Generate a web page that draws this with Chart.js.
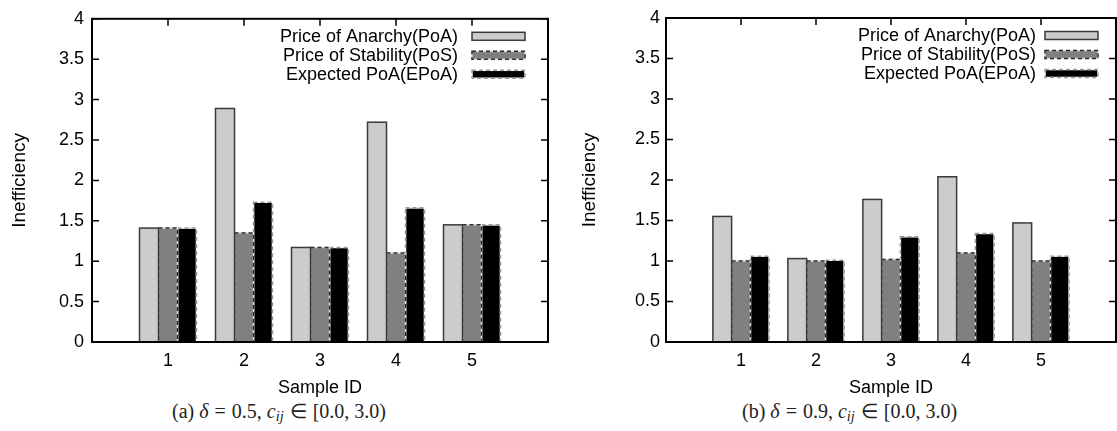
<!DOCTYPE html>
<html><head><meta charset="utf-8">
<script src="https://cdn.jsdelivr.net/npm/chart.js@4.4.0/dist/chart.umd.min.js"></script>
<style>
html,body{margin:0;padding:0;background:#fff;width:1117px;height:431px;overflow:hidden;}
canvas{position:absolute;top:0;}
#ca{left:0;}
#cb{left:570px;}
.cap{position:absolute;top:400px;font-family:"Liberation Serif","Times New Roman",serif;font-size:20px;color:#222;white-space:nowrap;line-height:22px;}
.cap i{font-style:italic;}
.cap .op{margin:0 6px;}
.cap sub{font-size:72%;vertical-align:-3px;line-height:0;}
</style></head><body>
<canvas id="ca" width="558" height="400"></canvas>
<canvas id="cb" width="547" height="400"></canvas>
<div class="cap" style="left:172px">(a) <i>δ</i><span class="op">=</span>0.5, <i>c<sub>ij</sub></i><span class="op">∈</span>[0.0, 3.0)</div>
<div class="cap" style="left:742px">(b) <i>δ</i><span class="op">=</span>0.9, <i>c<sub>ij</sub></i><span class="op">∈</span>[0.0, 3.0)</div>
<script>
// ---- data ----
const sampleIds = [1, 2, 3, 4, 5];
const xTickValues = [1, 2, 3, 4, 5];
const yTickValues = [0, 0.5, 1, 1.5, 2, 2.5, 3, 3.5, 4];
const seriesNames = ['Price of Anarchy(PoA)', 'Price of Stability(PoS)', 'Expected PoA(EPoA)'];
const poaA  = [1.41, 2.89, 1.17, 2.72, 1.45];
const posA  = [1.41, 1.35, 1.17, 1.10, 1.45];
const epoaA = [1.41, 1.73, 1.17, 1.66, 1.45];
const poaB  = [1.55, 1.03, 1.76, 2.04, 1.47];
const posB  = [1.00, 1.00, 1.02, 1.10, 1.00];
const epoaB = [1.06, 1.01, 1.30, 1.34, 1.06];
const yTitle = 'Inefficiency';
const xTitle = 'Sample ID';

// ---- styles ----
const FONT = '"Liberation Sans", Arial, Helvetica, sans-serif';
const barStyles = [
  {fill: '#cccccc', under: null, stroke: '#3a3a3a', dash: []},
  {fill: '#808080', under: '#dddddd', stroke: '#2a2a2a', dash: [4, 3]},
  {fill: '#000000', under: '#ffffff', stroke: '#9a9a9a', dash: [4, 3]}
];

function outlineRect(ctx, x, y, w, h, st) {
  ctx.save();
  ctx.lineWidth = 1.5;
  if (st.under) {
    ctx.setLineDash([]);
    ctx.strokeStyle = st.under;
    ctx.strokeRect(x, y, w, h);
  }
  ctx.setLineDash(st.dash);
  ctx.strokeStyle = st.stroke;
  ctx.strokeRect(x, y, w, h);
  ctx.restore();
}

const barOutline = {
  id: 'barOutline',
  afterDatasetDraw(chart, args) {
    const st = barStyles[args.index];
    const ctx = chart.ctx;
    args.meta.data.forEach(el => {
      const p = el.getProps(['x', 'y', 'base', 'width'], true);
      outlineRect(ctx, p.x - p.width / 2, p.y, p.width, p.base - p.y, st);
    });
  }
};

const innerTicks = {
  id: 'innerTicks',
  beforeDatasetsDraw(chart) {
    const {ctx, chartArea: a, scales} = chart;
    ctx.save();
    ctx.strokeStyle = '#000';
    ctx.lineWidth = 1.5;
    ctx.beginPath();
    yTickValues.forEach(v => {
      const py = scales.y.getPixelForValue(v);
      ctx.moveTo(a.left, py); ctx.lineTo(a.left + 7, py);
      ctx.moveTo(a.right, py); ctx.lineTo(a.right - 7, py);
    });
    xTickValues.forEach(v => {
      const px = scales.x.getPixelForValue(v);
      ctx.moveTo(px, a.top); ctx.lineTo(px, a.top + 7);
      ctx.moveTo(px, a.bottom); ctx.lineTo(px, a.bottom - 7);
    });
    ctx.stroke();
    ctx.restore();
  }
};

const frameAndLegend = {
  id: 'frameAndLegend',
  afterDraw(chart, args, opts) {
    const {ctx, chartArea: a} = chart;
    ctx.save();
    ctx.strokeStyle = '#000';
    ctx.lineWidth = 2;
    ctx.strokeRect(a.left, a.top, a.right - a.left, a.bottom - a.top);
    // legend
    ctx.font = '18px ' + FONT;
    ctx.fillStyle = '#000';
    ctx.textAlign = 'right';
    ctx.textBaseline = 'middle';
    chart.data.datasets.forEach((ds, i) => {
      const cy = a.top + 17.5 + i * 19;
      const bw = 53, bh = 8;
      const bx = a.right - opts.gap - bw;
      ctx.fillStyle = barStyles[i].fill;
      ctx.fillRect(bx, cy - bh / 2, bw, bh);
      outlineRect(ctx, bx, cy - bh / 2, bw, bh, barStyles[i]);
      ctx.fillStyle = '#000';
      ctx.fillText(ds.label, bx - opts.textGap, cy + 1);
    });
    ctx.restore();
  }
};

function makeChart(id, series, cfg) {
  const datasets = series.map((vals, i) => ({
    label: seriesNames[i],
    data: sampleIds.map((s, k) => ({x: s, y: vals[k]})),
    backgroundColor: barStyles[i].fill,
    borderWidth: 0,
    categoryPercentage: 0.75,
    barPercentage: 1.0
  }));
  return new Chart(document.getElementById(id), {
    type: 'bar',
    data: {datasets},
    plugins: [innerTicks, barOutline, frameAndLegend],
    options: {
      responsive: false,
      animation: false,
      devicePixelRatio: 1,
      layout: {padding: {left: 0, top: 18, right: cfg.padRight, bottom: 0}},
      plugins: {
        legend: {display: false},
        tooltip: {enabled: false},
        frameAndLegend: {gap: cfg.legendGap, textGap: cfg.textGap}
      },
      scales: {
        x: {
          type: 'linear', min: 0, max: 6, offset: false,
          grid: {display: false, drawTicks: false},
          border: {display: false},
          afterBuildTicks: s => { s.ticks = xTickValues.map(v => ({value: v})); },
          afterFit: s => { s.height = 58; },
          ticks: {color: '#000', font: {family: FONT, size: 18}, padding: 8, callback: v => String(v)},
          title: {display: true, text: xTitle, color: '#000', font: {family: FONT, size: 18}, padding: {top: 0, bottom: 1}}
        },
        y: {
          min: 0, max: 4,
          grid: {display: false, drawTicks: false},
          border: {display: false},
          afterBuildTicks: s => { s.ticks = yTickValues.map(v => ({value: v})); },
          afterFit: s => { s.width = cfg.yWidth; },
          ticks: {color: '#000', font: {family: FONT, size: 18}, padding: cfg.yPad, callback: v => String(v)},
          title: {display: true, text: yTitle, color: '#000', font: {family: FONT, size: 19}, padding: {top: 8, bottom: 0}}
        }
      }
    }
  });
}

makeChart('ca', [poaA, posA, epoaA], {yWidth: 92, padRight: 10, legendGap: 23, textGap: 14, yPad: 8});
makeChart('cb', [poaB, posB, epoaB], {yWidth: 96, padRight: 1, legendGap: 18, textGap: 9, yPad: 6});
</script>
</body></html>
